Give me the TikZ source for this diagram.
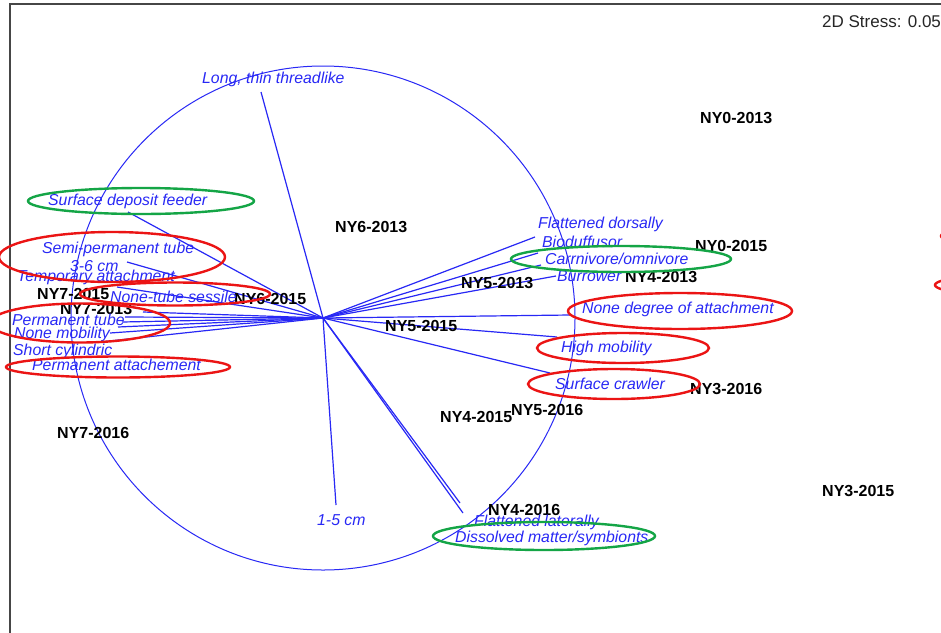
\documentclass[tikz,border=0pt]{standalone}
\usepackage{fontspec}
\setmainfont{Liberation Sans}
\definecolor{vblue}{RGB}{40,40,245}
\definecolor{ellred}{RGB}{235,20,20}
\definecolor{ellgreen}{RGB}{20,165,70}
\definecolor{framegray}{RGB}{70,70,70}
\begin{document}
\begin{tikzpicture}[x=1pt,y=-1pt,
  site/.style={font=\fontsize{16}{18}\selectfont\bfseries, text=black, anchor=west, inner sep=0pt},
  trait/.style={font=\fontsize{15.8}{18}\selectfont\itshape, text=vblue, anchor=west, inner sep=0pt},
  vec/.style={draw=vblue, line width=1.2pt},
  redell/.style={draw=ellred, line width=2.4pt},
  greenell/.style={draw=ellgreen, line width=2.4pt}]
\useasboundingbox (0,0) rectangle (941,632);
\fill[white] (0,0) rectangle (941,632);
\begin{scope}
\clip (0,0) rectangle (941,632);
% frame
\draw[framegray, line width=1.6pt] (10,640) -- (10,4) -- (950,4);
% stress
\node[font=\fontsize{17}{19}\selectfont, text=black!85, anchor=west, inner sep=0pt] (stress) at (822,22) {2D Stress: 0.05};
% circle
\coordinate (O) at (323,318);
\draw[vblue, line width=1pt] (O) circle [radius=252pt];
% vector ends
\coordinate (eLong) at (261,92);
\coordinate (eSDF) at (128,212);
\coordinate (eSemi) at (127,262);
\coordinate (eTemp) at (117,287);
\coordinate (eNTS) at (143,312);
\coordinate (ePT) at (125,317);
\coordinate (eNM) at (122,322);
\coordinate (eSC) at (118,327);
\coordinate (ePA) at (110,333);
\coordinate (e36) at (100,342);
\coordinate (eFD) at (535,237);
\coordinate (eBio) at (538,253);
\coordinate (eCarn) at (541,265);
\coordinate (eBur) at (556,276);
\coordinate (eNDA) at (570,315);
\coordinate (eHM) at (557,337);
\coordinate (eSCr) at (550,373);
\coordinate (e15) at (336,505);
\coordinate (eFL) at (460,503);
\coordinate (eDM) at (463,513);
\foreach \e in {eLong,eSDF,eSemi,eTemp,eNTS,ePT,eNM,eSC,ePA,e36,eFD,eBio,eCarn,eBur,eNDA,eHM,eSCr,e15,eFL,eDM}
  \draw[vec] (O) -- (\e);
% site labels
\node[site] (s1) at (700,118) {NY0-2013};
\node[site] (s2) at (335,227) {NY6-2013};
\node[site] (s3) at (695,246) {NY0-2015};
\node[site] (s4) at (625,277) {NY4-2013};
\node[site] (s5) at (461,283) {NY5-2013};
\node[site] (s6) at (37,294) {NY7-2015};
\node[site] (s7) at (234,299) {NY6-2015};
\node[site] (s8) at (60,309) {NY7-2013};
\node[site] (s9) at (385,326) {NY5-2015};
\node[site] (s10) at (690,389) {NY3-2016};
\node[site] (s11) at (511,410) {NY5-2016};
\node[site] (s12) at (440,417) {NY4-2015};
\node[site] (s13) at (57,433) {NY7-2016};
\node[site] (s14) at (488,510) {NY4-2016};
\node[site] (s15) at (822,491) {NY3-2015};
% trait labels
\node[trait] (t1) at (202,79) {Long, thin threadlike};
\node[trait] (t2) at (48,201) {Surface deposit feeder};
\node[trait] (t3) at (42,249) {Semi-permanent tube};
\node[trait] (t4) at (70,266) {3-6 cm};
\node[trait] (t5) at (17,277) {Temporary attachment};
\node[trait] (t6) at (110,297) {None-tube sessile};
\node[trait] (t7) at (12,320) {Permanent tube};
\node[trait] (t8) at (14,334) {None mobility};
\node[trait] (t9) at (13,351) {Short cylindric};
\node[trait] (t10) at (32,365) {Permanent attachement};
\node[trait] (t11) at (538,224) {Flattened dorsally};
\node[trait] (t12) at (542,242) {Bioduffusor};
\node[trait] (t13) at (545,259) {Carrnivore/omnivore};
\node[trait] (t14) at (557,276) {Burrower};
\node[trait] (t15) at (582,309) {None degree of attachment};
\node[trait] (t16) at (561,348) {High mobility};
\node[trait] (t17) at (555,384) {Surface crawler};
\node[trait] (t18) at (317,520) {1-5 cm};
\node[trait] (t19) at (474,522) {Flattened laterally};
\node[trait] (t20) at (455,538) {Dissolved matter/symbionts};
% highlight ellipses
\draw[greenell] (141,201) ellipse [x radius=113pt, y radius=13pt];
\draw[redell] (112,257) ellipse [x radius=113pt, y radius=25pt];
\draw[redell] (175,294) ellipse [x radius=95pt, y radius=11.5pt];
\draw[redell] (80,323) ellipse [x radius=90pt, y radius=19.5pt];
\draw[redell] (118,367) ellipse [x radius=112pt, y radius=10.5pt];
\draw[greenell] (621,259) ellipse [x radius=110pt, y radius=13pt];
\draw[redell] (680,311) ellipse [x radius=112pt, y radius=18pt];
\draw[redell] (623,348) ellipse [x radius=86pt, y radius=15pt];
\draw[redell] (614,384) ellipse [x radius=86pt, y radius=15pt];
\draw[greenell] (544,536) ellipse [x radius=111pt, y radius=14pt];
\draw[redell] (1042,236) ellipse [x radius=101pt, y radius=12pt];
\draw[redell] (1036,285) ellipse [x radius=101pt, y radius=12pt];
\end{scope}
\end{tikzpicture}
\end{document}
